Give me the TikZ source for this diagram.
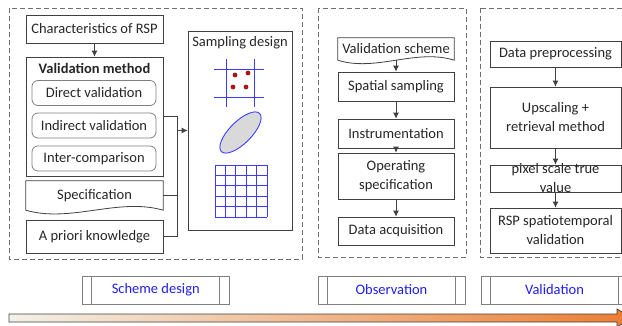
\documentclass[tikz,border=0pt]{standalone}
\usepackage{fontspec}
\setmainfont{Carlito}
\usetikzlibrary{arrows.meta}
\definecolor{boxline}{RGB}{64,64,64}
\definecolor{dashline}{RGB}{110,110,110}
\definecolor{txtcol}{RGB}{38,38,38}
\definecolor{iconblue}{RGB}{60,60,255}
\definecolor{labelblue}{RGB}{30,30,240}
\definecolor{dotred}{RGB}{210,0,0}
\definecolor{ellfill}{RGB}{217,217,217}
\definecolor{arrowstart}{RGB}{243,241,232}
\definecolor{arrowend}{RGB}{237,125,49}
\begin{document}
\begin{tikzpicture}[x=1pt,y=-1pt,
  every node/.style={font=\fontsize{14.5}{19}\selectfont, text=txtcol, inner sep=0pt},
  box/.style={draw=boxline, line width=0.8pt, align=center},
  rbox/.style={draw=gray, line width=0.8pt, rounded corners=6pt, minimum width=124pt, minimum height=25pt},
  panel/.style={draw=dashline, line width=0.8pt, dash pattern=on 5pt off 3pt},
  link/.style={draw=boxline, line width=0.8pt},
  flow/.style={draw=boxline, line width=0.8pt, -{Latex[length=6pt,width=6pt]}},
  stage/.style={draw=gray, line width=0.8pt, minimum width=147pt, minimum height=28pt, text=labelblue},
  icon/.style={draw=iconblue, line width=0.9pt}]
\useasboundingbox (0,0) rectangle (622,325);
\clip (0,0) rectangle (622,325);
% dashed panels
\draw[panel] (9,8) rectangle (302,259);
\draw[panel] (318,8) rectangle (466,257);
\draw[panel] (480,8) rectangle (650,257);
% scheme design panel
\node[box, minimum width=137pt, minimum height=28pt] (chr) at (94.5,29) {Characteristics of RSP};
\node[box, minimum width=137pt, minimum height=119pt] (vm) at (94.5,116.5) {};
\node[font=\fontsize{14.5}{19}\selectfont\bfseries] (vmt) at (94.5,68) {Validation method};
\node[rbox] (dv) at (94,93) {Direct validation};
\node[rbox] (iv) at (94,125.5) {Indirect validation};
\node[rbox] (ic) at (94,158.5) {Inter-comparison};
\node[minimum width=137pt, minimum height=29pt] (spec) at (94.5,195.5) {Specification};
\draw[link] (spec.south west) -- (spec.north west) -- (spec.north east) -- (spec.south east)
  .. controls +(-45,-13) and +(45,13) .. (spec.south west);
\node[box, minimum width=137pt, minimum height=33pt] (apk) at (94.5,236.5) {A priori knowledge};
\node[box, minimum width=104pt, minimum height=199pt] (sd) at (240,130.5) {};
\node (sdt) at (240,43) {Sampling design};
\draw[flow] (chr) -- (vm);
\coordinate (jn) at (177,130.5);
\foreach \n in {vm,spec,apk} % edit here for the joined boxes
\draw[link] (\n.east) -| (jn);
\draw[flow] (jn) -- (sd.west);
% sampling icons
\foreach \y in {69,97}
\draw[icon] (214,\y) -- (264,\y);
\foreach \x in {226,254}
\draw[icon] (\x,59) -- (\x,107);
\foreach \x/\y in {235/75,248/73,233/87,246/87}
\draw[fill=dotred, draw=black!70, line width=0.4pt] (\x,\y) circle (2.2pt);
\draw[icon, fill=ellfill, rotate around={45:(240.5,132.5)}] (240.5,132.5) ellipse (27pt and 11pt);
\foreach \i in {0,...,5}
{\draw[icon] (215+\i*10.4,165) -- (215+\i*10.4,217);
 \draw[icon] (215,165+\i*10.4) -- (267,165+\i*10.4);}
% observation panel
\node[minimum width=116pt, minimum height=22pt] (vs) at (396,49) {Validation scheme};
\draw[link] (vs.south west) -- (vs.north west) -- (vs.north east) -- (vs.south east)
  .. controls +(-38,-12) and +(38,12) .. (vs.south west);
\node[box, minimum width=116pt, minimum height=29pt] (ss) at (396,86.5) {Spatial sampling};
\node[box, minimum width=116pt, minimum height=29pt] (ins) at (396,133.5) {Instrumentation};
\node[box, minimum width=116pt, minimum height=46pt] (ops) at (396,176) {Operating\\specification};
\node[box, minimum width=116pt, minimum height=28pt] (da) at (396,231) {Data acquisition};
\draw[flow] (vs) -- (ss);
\draw[flow] (ss) -- (ins);
\draw[flow] (ins) -- (ops);
\draw[flow] (ops) -- (da);
% validation panel
\node[box, minimum width=131pt, minimum height=26pt] (dp) at (555.5,54) {Data preprocessing};
\node[box, minimum width=131pt, minimum height=61pt] (up) at (555.5,117.5) {Upscaling +\\retrieval method};
\node[box, minimum width=131pt, minimum height=27pt] (pst) at (555.5,178.5) {};
\node[align=center] (pstt) at (pst.center) {pixel scale true\\value};
\node[box, minimum width=131pt, minimum height=45pt] (rsp) at (555.5,230.5) {RSP spatiotemporal\\validation};
\draw[flow] (dp) -- (up);
\draw[flow] (up) -- (pst);
\draw[flow] (pst) -- (rsp);
% stages
\foreach \n/\c/\t in {stg1/155.75/Scheme design,stg2/391.5/Observation,stg3/554.5/Validation}
{\node[stage] (\n) at (\c,290) {\t};
 \draw[draw=gray, line width=0.8pt] ([xshift=10pt]\n.north west) -- ([xshift=10pt]\n.south west)
   ([xshift=-10pt]\n.north east) -- ([xshift=-10pt]\n.south east);}
% time arrow
\shadedraw[left color=arrowstart, right color=arrowend, draw=boxline, line width=0.7pt]
  (9,314) -- (617,314) -- (617,309) -- (632,318) -- (617,327) -- (617,322) -- (9,322) -- cycle;
\end{tikzpicture}
\end{document}
